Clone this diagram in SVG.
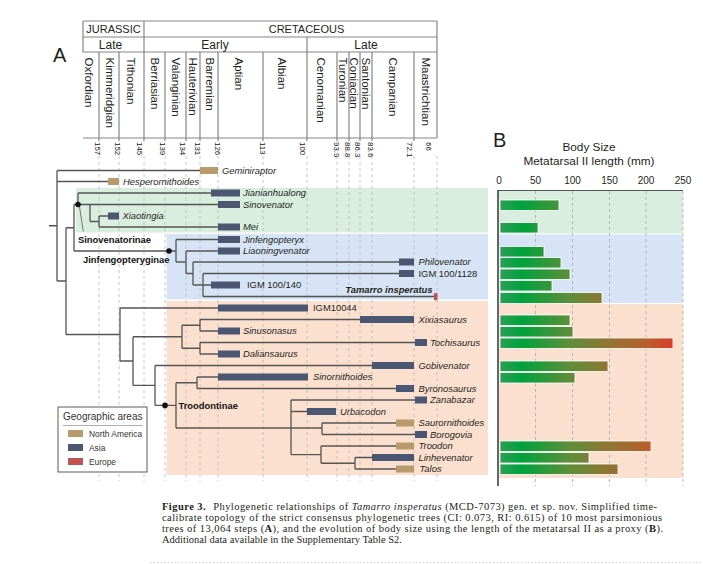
<svg xmlns="http://www.w3.org/2000/svg" width="703" height="564" viewBox="0 0 703 564">
<defs>
<linearGradient id="sizeGrad" gradientUnits="userSpaceOnUse" x1="500" y1="0" x2="682" y2="0">
<stop offset="0" stop-color="#2c9f57"/>
<stop offset="0.12" stop-color="#00a23d"/>
<stop offset="0.38" stop-color="#5d8e3a"/>
<stop offset="0.58" stop-color="#8c7733"/>
<stop offset="0.8" stop-color="#b6602d"/>
<stop offset="1" stop-color="#e8322a"/>
</linearGradient>
</defs>
<style>
.hdr{stroke:#858585;stroke-width:1.2;fill:none}
.sans{font-family:"Liberation Sans",Arial,sans-serif;fill:#231f20}
.per{font-size:11px;text-anchor:middle}
.ep{font-size:12px;text-anchor:middle}
.stg{font-size:11.5px;dominant-baseline:central}
.num{font-size:7.9px;dominant-baseline:central;fill:#111}
.grid{stroke:#b8b8b8;stroke-width:0.8;stroke-dasharray:3 3;fill:none}
.br{stroke:#555;stroke-width:1.3;fill:none}
.as{fill:#4b5673}
.na{fill:#b89a6d}
.eu{fill:#c0524f}
.tx{font-family:"Liberation Sans",Arial,sans-serif;font-size:9.4px;fill:#231f20;font-style:italic}
.tn{font-style:normal}
.clade{font-family:"Liberation Sans",Arial,sans-serif;font-size:9.4px;fill:#111;font-weight:bold}
.dot{fill:#111}
.sz{fill:url(#sizeGrad);stroke:#fff;stroke-width:0.8}
.bgrid{stroke:#a8a8a8;stroke-width:0.8;stroke-dasharray:3 3;fill:none}
.cap{font-family:"Liberation Serif","Times New Roman",serif;font-size:10.5px;fill:#231f20}
.leg{font-family:"Liberation Sans",Arial,sans-serif;fill:#333}
</style>

<!-- Panel letters -->
<text class="sans" x="53" y="62" font-size="20">A</text>
<text class="sans" x="493" y="147" font-size="20">B</text>

<!-- Time scale header -->
<g id="timescale">
<path class="hdr" d="M83,21H437M83,37H437M83,52H437M83,138H437M83,21V52M144,21V138M307,37V138M437,21V138"/>
<path class="hdr" d="M99,52V138M119,52V138M165,52V138M186,52V138M200,52V138M218,52V138M263,52V138M337,52V138M349,52V138M360,52V138M372,52V138M414,52V138"/>
<path class="hdr" d="M99,138V141M119,138V141M144,138V141M165,138V141M186,138V141M200,138V141M218,138V141M263,138V141M307,138V141M337,138V141M349,138V141M360,138V141M372,138V141M414,138V141"/>
<text class="sans per" x="113.5" y="33">JURASSIC</text>
<text class="sans per" x="306.5" y="33">CRETACEOUS</text>
<text class="sans ep" x="110.5" y="48.5">Late</text>
<text class="sans ep" x="215" y="48.5">Early</text>
<text class="sans ep" x="366" y="48.5">Late</text>
<text class="sans stg" transform="translate(89,57.5) rotate(90)">Oxfordian</text>
<text class="sans stg" transform="translate(110,57.5) rotate(90)">Kimmeridgian</text>
<text class="sans stg" transform="translate(131,57.5) rotate(90)">Tithonian</text>
<text class="sans stg" transform="translate(155,57.5) rotate(90)">Berriasian</text>
<text class="sans stg" transform="translate(175.5,57.5) rotate(90)">Valanginian</text>
<text class="sans stg" transform="translate(192.5,57.5) rotate(90)">Hauterivian</text>
<text class="sans stg" transform="translate(210,57.5) rotate(90)">Barremian</text>
<text class="sans stg" transform="translate(239,57.5) rotate(90)">Aptian</text>
<text class="sans stg" transform="translate(282,57.5) rotate(90)">Albian</text>
<text class="sans stg" transform="translate(321,57.5) rotate(90)">Cenomanian</text>
<text class="sans stg" transform="translate(342.5,57.5) rotate(90)">Turonian</text>
<text class="sans stg" transform="translate(354,57.5) rotate(90)">Coniacian</text>
<text class="sans stg" transform="translate(366,57.5) rotate(90)">Santonian</text>
<text class="sans stg" transform="translate(392.5,57.5) rotate(90)">Campanian</text>
<text class="sans stg" transform="translate(426,57.5) rotate(90)">Maastrichtian</text>
<text class="sans num" transform="translate(97,142) rotate(90)">157</text>
<text class="sans num" transform="translate(117,142) rotate(90)">152</text>
<text class="sans num" transform="translate(139.5,142) rotate(90)">145</text>
<text class="sans num" transform="translate(162,142) rotate(90)">139</text>
<text class="sans num" transform="translate(182,142) rotate(90)">134</text>
<text class="sans num" transform="translate(197,142) rotate(90)">131</text>
<text class="sans num" transform="translate(217,142) rotate(90)">126</text>
<text class="sans num" transform="translate(262,142) rotate(90)">113</text>
<text class="sans num" transform="translate(302,142) rotate(90)">100</text>
<text class="sans num" transform="translate(336,142) rotate(90)">93.9</text>
<text class="sans num" transform="translate(347,142) rotate(90)">88.8</text>
<text class="sans num" transform="translate(357.5,142) rotate(90)">86.3</text>
<text class="sans num" transform="translate(370,142) rotate(90)">83.6</text>
<text class="sans num" transform="translate(409.5,142) rotate(90)">72.1</text>
<text class="sans num" transform="translate(428,142) rotate(90)">66</text>
</g>

<!-- Clade background bands -->
<g id="bands">
<rect x="76" y="188" width="412" height="44.5" fill="#d9eedf"/>
<rect x="166.5" y="234" width="321.5" height="65.5" fill="#d7e4f5"/>
<rect x="166.5" y="301" width="321.5" height="174" fill="#fce0cf"/>
<rect x="499" y="191" width="184" height="42.5" fill="#d9eedf"/>
<rect x="499" y="234.5" width="184" height="68.5" fill="#d7e4f5"/>
<rect x="499" y="304" width="184" height="174" fill="#fce0cf"/>
</g>

<!-- Time grid -->
<path class="grid" d="M99,156V481M119,156V481M144,156V481M165,156V481M186,156V481M200,156V481M218,156V481M263,156V481M307,156V481M337,156V481M349,156V481M360,156V481M372,156V481M414,156V481M437,156V481"/>

<!-- Tree connectors -->
<g id="connectors" class="br">
<path d="M49,225.75H57M57,170.5V281M57,170.5H200M57,181.5H108M57,281H66"/>
<path d="M66,227.75V334.5M66,227.75H74M74,204.5V251M74,204.5H218M78,193V204.5M78,193H211"/>
<path d="M90,204.5V221.5M90,221.5H99M99,216V227M99,216H108M99,227H218"/>
<path d="M74,251H176M176,239.5V262M176,239.5H218M176,262H186M186,251V273.5M186,251H218M186,273.5H193"/>
<path d="M193,262V285M193,262H399M193,285H211M203,273.5V296.5M203,273.5H399M203,296.5H434"/>
<path d="M66,334.5H120M120,308V361M120,308H218M120,361H133M133,336.75V385.4M133,336.75H182"/>
<path d="M182,325.25V348.25M182,325.25H200M182,348.25H200M200,319.5V331M200,319.5H360M200,331H218M200,342.5V354M200,342.5H415M200,354H218"/>
<path d="M133,385.4H155M155,365.5V405.4M155,365.5H372M155,405.4H176M176,382.75V428M176,382.75H197M176,428H322"/>
<path d="M197,377V388.5M197,377H218M197,388.5H396"/>
<path d="M291,400V454.6M291,400H415M291,411.5H307M291,454.6H321M322,423V434.5M322,423H396M322,434.5H415"/>
<path d="M321,446V463.25M321,446H396M321,463.25H355M355,457.5V469M355,457.5H372M355,469H396"/>
<path d="M79.3,205.5L83.3,231.5" stroke-width="0.8"/>
</g>

<!-- Clade nodes -->
<g id="Sinovenatorinae">
<circle class="dot" cx="78" cy="204.5" r="2.8"/>
<text class="clade" x="78" y="243">Sinovenatorinae</text>
</g>
<g id="Jinfengopteryginae">
<circle class="dot" cx="169" cy="251" r="2.8"/>
<text class="clade" x="83" y="262.5">Jinfengopteryginae</text>
</g>
<g id="Troodontinae">
<circle class="dot" cx="165" cy="405.4" r="2.8"/>
<text class="clade" x="178.5" y="408.6">Troodontinae</text>
</g>

<!-- Taxa -->
<g id="Geminiraptor"><rect class="na" x="200" y="167" width="18" height="7"/><text class="tx" x="222" y="173.8">Geminiraptor</text></g>
<g id="Hesperornithoides"><rect class="na" x="108" y="178" width="11" height="7"/><text class="tx" x="123" y="184.8">Hesperornithoides</text></g>
<g id="Jianianhualong"><rect class="as" x="211" y="189.5" width="29" height="7"/><text class="tx" x="243" y="196.3">Jianianhualong</text></g>
<g id="Sinovenator"><rect class="as" x="218" y="201" width="22" height="7"/><text class="tx" x="243" y="207.8">Sinovenator</text></g>
<g id="Xiaotingia"><rect class="as" x="108" y="212.5" width="11" height="7"/><text class="tx" x="122.5" y="219.3">Xiaotingia</text></g>
<g id="Mei"><rect class="as" x="218" y="223.5" width="22" height="7"/><text class="tx" x="243" y="230.3">Mei</text></g>
<g id="Jinfengopteryx"><rect class="as" x="218" y="236" width="22" height="7"/><text class="tx" x="243" y="242.8">Jinfengopteryx</text></g>
<g id="Liaoningvenator"><rect class="as" x="218" y="247.5" width="22" height="7"/><text class="tx" x="243" y="254.3">Liaoningvenator</text></g>
<g id="Philovenator"><rect class="as" x="399" y="258.5" width="15" height="7"/><text class="tx" x="418.5" y="265.3">Philovenator</text></g>
<g id="IGM100-1128"><rect class="as" x="399" y="270" width="15" height="7"/><text class="tx tn" x="418.5" y="276.8">IGM 100/1128</text></g>
<g id="IGM100-140"><rect class="as" x="211" y="281.5" width="29" height="7"/><text class="tx tn" x="247" y="288.3">IGM 100/140</text></g>
<g id="Tamarro"><rect class="eu" x="434" y="293.2" width="3.5" height="7"/><text class="tx" x="432.5" y="292.8" text-anchor="end" font-weight="bold">Tamarro insperatus</text></g>
<g id="IGM10044"><rect class="as" x="218" y="304.5" width="90" height="7"/><text class="tx tn" x="313" y="311.3">IGM10044</text></g>
<g id="Xixiasaurus"><rect class="as" x="360" y="316" width="54" height="7"/><text class="tx" x="418.5" y="322.8">Xixiasaurus</text></g>
<g id="Sinusonasus"><rect class="as" x="218" y="327.5" width="22" height="7"/><text class="tx" x="243" y="334.3">Sinusonasus</text></g>
<g id="Tochisaurus"><rect class="as" x="415" y="339" width="12" height="7"/><text class="tx" x="430" y="345.8">Tochisaurus</text></g>
<g id="Daliansaurus"><rect class="as" x="218" y="350.5" width="22" height="7"/><text class="tx" x="243" y="357.3">Daliansaurus</text></g>
<g id="Gobivenator"><rect class="as" x="372" y="362" width="42" height="7"/><text class="tx" x="418.5" y="368.8">Gobivenator</text></g>
<g id="Sinornithoides"><rect class="as" x="218" y="373.5" width="90" height="7"/><text class="tx" x="313" y="380.3">Sinornithoides</text></g>
<g id="Byronosaurus"><rect class="as" x="396" y="385" width="18" height="7"/><text class="tx" x="418.5" y="391.8">Byronosaurus</text></g>
<g id="Zanabazar"><rect class="as" x="415" y="396.5" width="12" height="7"/><text class="tx" x="430" y="403.3">Zanabazar</text></g>
<g id="Urbacodon"><rect class="as" x="307" y="408" width="29" height="7"/><text class="tx" x="340" y="414.8">Urbacodon</text></g>
<g id="Saurornithoides"><rect class="na" x="396" y="419.5" width="18" height="7"/><text class="tx" x="418.5" y="426.3">Saurornithoides</text></g>
<g id="Borogovia"><rect class="as" x="415" y="431" width="12" height="7"/><text class="tx" x="430" y="437.8">Borogovia</text></g>
<g id="Troodon"><rect class="na" x="396" y="442.5" width="18" height="7"/><text class="tx" x="418.5" y="449.3">Troodon</text></g>
<g id="Linhevenator"><rect class="as" x="372" y="454" width="42" height="7"/><text class="tx" x="418.5" y="460.8">Linhevenator</text></g>
<g id="Talos"><rect class="na" x="396" y="465.5" width="18" height="7"/><text class="tx" x="419.5" y="472.3">Talos</text></g>

<!-- Legend -->
<g id="legend">
<rect x="58" y="407" width="89" height="65" fill="#fff" stroke="#5a5a5a" stroke-width="1"/>
<text class="leg" x="63" y="420" font-size="10">Geographic areas</text>
<line x1="63" y1="425.5" x2="143" y2="425.5" stroke="#999" stroke-width="0.8"/>
<rect class="na" x="68" y="430" width="15" height="7"/>
<rect class="as" x="68" y="444" width="15" height="7"/>
<rect class="eu" x="68" y="458" width="15" height="7"/>
<text class="leg" x="89" y="437" font-size="8.4">North America</text>
<text class="leg" x="89" y="451" font-size="8.4">Asia</text>
<text class="leg" x="89" y="465" font-size="8.4">Europe</text>
</g>

<!-- Panel B -->
<g id="panelB">
<text class="sans" x="589" y="150.5" font-size="11.8" text-anchor="middle">Body Size</text>
<text class="sans" x="589" y="164.5" font-size="11.8" text-anchor="middle">Metatarsal II length (mm)</text>
<g class="sans" font-size="10" text-anchor="middle">
<text x="499" y="184">0</text>
<text x="535.5" y="184">50</text>
<text x="572.5" y="184">100</text>
<text x="609.5" y="184">150</text>
<text x="646" y="184">200</text>
<text x="683" y="184">250</text>
</g>
<path class="bgrid" d="M535.5,191V486M572.5,191V486M609.5,191V486M646,191V486M683,191V486"/>
<line x1="498" y1="190.5" x2="683" y2="190.5" stroke="#555" stroke-width="1"/>
<line x1="498" y1="190" x2="498" y2="486" stroke="#333" stroke-width="1.5"/>
<rect class="sz" x="500" y="200" width="59" height="10.5"/>
<rect class="sz" x="500" y="222.5" width="38" height="10.5"/>
<rect class="sz" x="500" y="246.5" width="44" height="10.5"/>
<rect class="sz" x="500" y="257.5" width="61" height="10.5"/>
<rect class="sz" x="500" y="269" width="70" height="10.5"/>
<rect class="sz" x="500" y="280.5" width="52" height="10.5"/>
<rect class="sz" x="500" y="292.5" width="102" height="11"/>
<rect class="sz" x="500" y="315" width="70" height="10.5"/>
<rect class="sz" x="500" y="326.5" width="73" height="10.5"/>
<rect class="sz" x="500" y="338" width="173" height="10.5"/>
<rect class="sz" x="500" y="361" width="108" height="10.5"/>
<rect class="sz" x="500" y="372.5" width="75" height="10.5"/>
<rect class="sz" x="500" y="441" width="151" height="10.5"/>
<rect class="sz" x="500" y="452.5" width="89" height="10.5"/>
<rect class="sz" x="500" y="464" width="118" height="10.5"/>
</g>

<!-- Caption -->
<g id="caption">
<text class="cap" x="162" y="510" textLength="495" lengthAdjust="spacing"><tspan font-weight="bold">Figure 3.</tspan><tspan dx="4"> Phylogenetic relationships of </tspan><tspan font-style="italic">Tamarro insperatus</tspan> (MCD-7073) gen. et sp. nov. Simplified time-</text>
<text class="cap" x="162" y="521" textLength="500" lengthAdjust="spacing">calibrate topology of the strict consensus phylogenetic trees (CI: 0.073, RI: 0.615) of 10 most parsimonious</text>
<text class="cap" x="162" y="531.8" textLength="501" lengthAdjust="spacing">trees of 13,064 steps (<tspan font-weight="bold">A</tspan>), and the evolution of body size using the length of the metatarsal II as a proxy (<tspan font-weight="bold">B</tspan>).</text>
<text class="cap" x="162" y="542.5">Additional data available in the Supplementary Table S2.</text>
<line x1="150" y1="562.5" x2="703" y2="562.5" stroke="#c8c8c8" stroke-width="0.8" stroke-dasharray="1.5 2"/>
</g>
</svg>
